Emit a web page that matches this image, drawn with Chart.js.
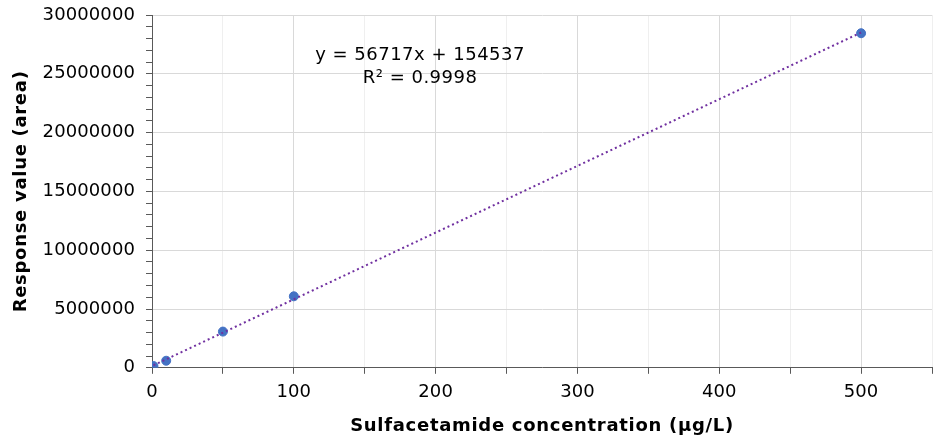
<!DOCTYPE html>
<html><head><meta charset="utf-8">
<script src="https://cdn.jsdelivr.net/npm/chart.js@4.4.1/dist/chart.umd.min.js"></script>
<style>html,body{margin:0;padding:0;background:#fff}#wrap{width:950px;height:440px}</style>
</head><body><div id="wrap"><canvas id="c" width="950" height="440"></canvas></div>
<script>
const concentrations = [1, 10, 50, 100, 500];
const responses = [150000, 600000, 3080000, 6080000, 28450000];
const slope = 56717;
const intercept = 154537;
const equationText = 'y = 56717x + 154537';
const r2Text = 'R² = 0.9998';
const xTitle = 'Sulfacetamide concentration (µg/L)';
const yTitle = 'Response value (area)';

const pts = concentrations.map((x, i) => ({x, y: responses[i]}));
const xMin = Math.min(...concentrations), xMax = Math.max(...concentrations);
const trend = [xMin, xMax].map(x => ({x, y: slope * x + intercept}));

const font = "'DejaVu Sans', Verdana, sans-serif";

// slightly widen lettering to mimic the reference's broad text
const canvas = document.getElementById('c');
const ctx2d = canvas.getContext('2d');
const fontDesc = Object.getOwnPropertyDescriptor(CanvasRenderingContext2D.prototype, 'font');
Object.defineProperty(ctx2d, 'font', {
  configurable: true,
  get() { return fontDesc.get.call(this); },
  set(v) {
    fontDesc.set.call(this, v);
    if ('letterSpacing' in this) {
      this.letterSpacing = /bold/.test(v) ? '0.7px' : '0.1px';
    }
  }
});

const eqPlugin = {
  id: 'eq',
  afterDraw(chart) {
    const {ctx, scales} = chart;
    const px = scales.x.getPixelForValue(189);
    ctx.save();
    ctx.fillStyle = '#000';
    ctx.font = '18px ' + font;
    if ('letterSpacing' in ctx) ctx.letterSpacing = '0.5px';
    ctx.textAlign = 'center';
    ctx.textBaseline = 'middle';
    ctx.fillText(equationText, px, scales.y.getPixelForValue(26550000));
    ctx.fillText(r2Text, px, scales.y.getPixelForValue(24600000));
    ctx.restore();
  }
};

new Chart(canvas, {
  type: 'scatter',
  data: {
    datasets: [
      {data: trend, showLine: true, borderColor: '#7030A0', borderWidth: 2, borderDash: [2, 3], pointRadius: 0, fill: false},
      {data: pts, backgroundColor: '#4472C4', borderColor: '#4472C4', pointRadius: 4.5, pointHoverRadius: 4.5}
    ]
  },
  options: {
    responsive: false,
    animation: false,
    layout: {padding: {left: 7, right: 18, top: 15, bottom: 1}},
    plugins: {legend: {display: false}, tooltip: {enabled: false}},
    scales: {
      x: {
        type: 'linear', min: 0, max: 550,
        border: {color: '#595959', width: 1},
        grid: {
          color: c => (c.tick && c.tick.value % 100 === 0) ? '#d9d9d9' : '#efefef',
          tickColor: '#595959', tickLength: 6
        },
        ticks: {stepSize: 50, autoSkip: false, maxRotation: 0, color: '#000', font: {family: font, size: 18}, padding: 8,
          callback: v => v % 100 === 0 ? String(v) : ''},
        title: {display: true, text: xTitle, color: '#000', font: {family: font, size: 18, weight: 'bold'}, padding: {top: 4, bottom: 2}}
      },
      y: {
        min: 0, max: 30000000,
        border: {color: '#595959', width: 1},
        grid: {
          color: c => (c.tick && c.tick.value % 5000000 === 0) ? '#d9d9d9' : 'rgba(0,0,0,0)',
          tickColor: '#595959', tickLength: 17, tickBorderDash: [6, 11], tickBorderDashOffset: 6
        },
        ticks: {stepSize: 1000000, autoSkip: false, color: '#000', font: {family: font, size: 18}, padding: 0,
          callback: v => v % 5000000 === 0 ? String(v) : ''},
        title: {display: true, text: yTitle, color: '#000', font: {family: font, size: 18, weight: 'bold'}, padding: {top: 4, bottom: 10}}
      }
    }
  },
  plugins: [eqPlugin]
});
</script></body></html>
